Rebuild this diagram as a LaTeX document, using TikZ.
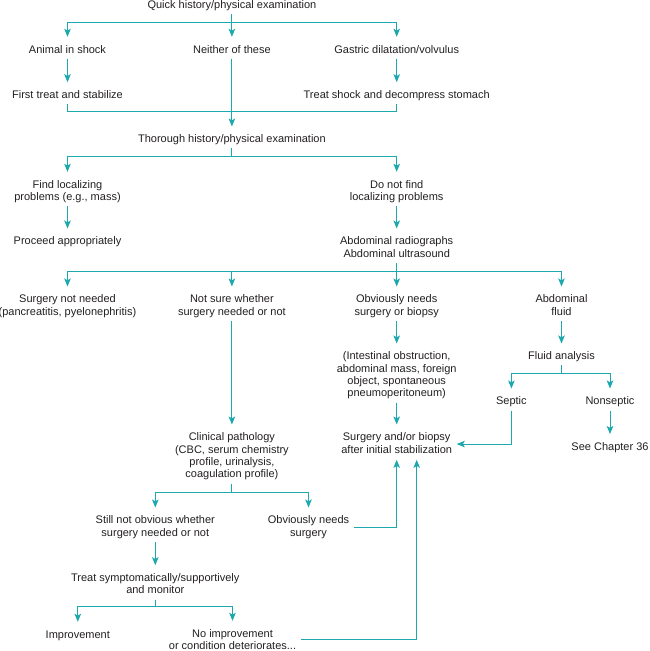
\documentclass[tikz,border=0pt]{standalone}
\usepackage{fontspec}
\setmainfont{Liberation Sans}
\usetikzlibrary{arrows.meta,calc}
\definecolor{teal1}{RGB}{28,168,172}
\definecolor{ink}{RGB}{35,31,32}
\newcommand\tstr{\rule{0pt}{8.2pt}}
\newcommand\bstr{\rule[-2.5pt]{0pt}{2.5pt}}
\begin{document}
\begin{tikzpicture}[x=1pt,y=-1pt,
  txt/.style={align=center, inner xsep=4.5pt, inner ysep=0pt, anchor=north,
    font=\fontsize{11}{12.4}\selectfont, text=ink},
  conn/.style={draw=teal1, line width=1pt},
  arr/.style={conn, -{Stealth[length=8pt,width=6.5pt,inset=1.8pt]}, color=teal1}]
\useasboundingbox (0,0) rectangle (650,651);

% nodes
\node[txt] (quick) at (231.9,0.3) {\tstr Quick history/physical examination\bstr};
\node[txt] (animal) at (67.5,44.6) {\tstr Animal in shock\bstr};
\node[txt] (neither) at (231.9,44.6) {\tstr Neither of these\bstr};
\node[txt] (gastric) at (396.7,44.6) {\tstr Gastric dilatation/volvulus\bstr};
\node[txt] (first) at (67.5,90) {\tstr First treat and stabilize\bstr};
\node[txt] (treatshock) at (396.7,90) {\tstr Treat shock and decompress stomach\bstr};
\node[txt] (thorough) at (231.9,134.3) {\tstr Thorough history/physical examination\bstr};
\node[txt] (findloc) at (67.5,179.6) {\tstr Find localizing\\problems (e.g., mass)\bstr};
\node[txt] (donot) at (396.7,179.6) {\tstr Do not find\\localizing problems\bstr};
\node[txt] (proceed) at (67.5,236.3) {\tstr Proceed appropriately\bstr};
\node[txt] (abdrad) at (396.7,236.3) {\tstr Abdominal radiographs\\Abdominal ultrasound\bstr};
\node[txt] (surgnot) at (67.5,294.3) {\tstr Surgery not needed\\(pancreatitis, pyelonephritis)\bstr};
\node[txt] (notsure) at (231.9,294.3) {\tstr Not sure whether\\surgery needed or not\bstr};
\node[txt] (obvneeds) at (396.7,294.3) {\tstr Obviously needs\\surgery or biopsy\bstr};
\node[txt] (abdfluid) at (561.5,294.3) {\tstr Abdominal\\fluid\bstr};
\node[txt] (intest) at (396.7,351.3) {\tstr (Intestinal obstruction,\\abdominal mass, foreign\\object, spontaneous\\pneumoperitoneum)\bstr};
\node[txt] (fluid) at (561.5,351.3) {\tstr Fluid analysis\bstr};
\node[txt] (septic) at (511.4,396.3) {\tstr Septic\bstr};
\node[txt] (nonseptic) at (610,396.3) {\tstr Nonseptic\bstr};
\node[txt] (chapter) at (610,441.8) {\tstr See Chapter 36\bstr};
\node[txt] (surgery) at (396.7,432.3) {\tstr Surgery and/or biopsy\\after initial stabilization\bstr};
\node[txt] (clinical) at (231.9,432.3) {\tstr Clinical pathology\\(CBC, serum chemistry\\profile, urinalysis,\\coagulation profile)\bstr};
\node[txt] (still) at (155.3,515.3) {\tstr Still not obvious whether\\surgery needed or not\bstr};
\node[txt] (obvsurg) at (308.5,515.3) {\tstr Obviously needs\\surgery\bstr};
\node[txt] (treatsym) at (155.3,573) {\tstr Treat symptomatically/supportively\\and monitor\bstr};
\node[txt] (improve) at (77.8,629.6) {\tstr Improvement\bstr};
\node[txt] (noimprove) at (232.5,628.6) {\tstr No improvement\\or condition deteriorates...};

% branch points
\coordinate (f1) at (231.9,22.3);
\coordinate (j1) at (231.9,111.7);
\coordinate (f2) at (231.9,156.7);
\coordinate (f3) at (396.7,271.7);
\coordinate (f4) at (561.5,373.3);
\coordinate (f5) at (231.9,492.3);
\coordinate (f6) at (155.3,606.7);

% connectors
\draw[conn] ($(quick.south)+(0,2.5)$) -- (f1);
\draw[arr] (f1) -| ($(animal.north)+(0,-7.8)$);
\draw[arr] (f1) -- ($(neither.north)+(0,-7.8)$);
\draw[arr] (f1) -| ($(gastric.north)+(0,-7.8)$);
\draw[arr] ($(animal.south)+(0,3)$) -- ($(first.north)+(0,-7.8)$);
\draw[arr] ($(gastric.south)+(0,3)$) -- ($(treatshock.north)+(0,-7.8)$);
\draw[conn] ($(first.south)+(0,3)$) |- (j1) -| ($(treatshock.south)+(0,3)$);
\draw[arr] ($(neither.south)+(0,3)$) -- ($(thorough.north)+(0,-7.8)$);

\draw[conn] ($(thorough.south)+(0,3)$) -- (f2);
\draw[arr] (f2) -| ($(findloc.north)+(0,-7.8)$);
\draw[arr] (f2) -| ($(donot.north)+(0,-7.8)$);
\draw[arr] ($(findloc.south)+(0,3)$) -- ($(proceed.north)+(0,-7.8)$);
\draw[arr] ($(donot.south)+(0,3)$) -- ($(abdrad.north)+(0,-7.8)$);

\draw[conn] ($(abdrad.south)+(0,3)$) -- (f3);
\draw[arr] (f3) -| ($(surgnot.north)+(0,-7.8)$);
\draw[arr] (f3) -| ($(notsure.north)+(0,-7.8)$);
\draw[arr] (f3) -- ($(obvneeds.north)+(0,-7.8)$);
\draw[arr] (f3) -| ($(abdfluid.north)+(0,-7.8)$);

\draw[arr] ($(notsure.south)+(0,3)$) -- ($(clinical.north)+(0,-7.8)$);
\draw[arr] ($(obvneeds.south)+(0,3)$) -- ($(intest.north)+(0,-7.8)$);
\draw[arr] ($(abdfluid.south)+(0,3)$) -- ($(fluid.north)+(0,-7.8)$);
\draw[arr] ($(intest.south)+(0,3)$) -- ($(surgery.north)+(0,-7.8)$);

\draw[conn] ($(fluid.south)+(0,3)$) -- (f4);
\draw[arr] (f4) -| ($(septic.north)+(0,-7.8)$);
\draw[arr] (f4) -| ($(nonseptic.north)+(0,-7.8)$);
\draw[arr] ($(septic.south)+(0,3.5)$) |- (surgery.east);
\draw[arr] ($(nonseptic.south)+(0,3.5)$) -- ($(chapter.north)+(0,-7.8)$);

\draw[conn] ($(clinical.south)+(0,3)$) -- (f5);
\draw[arr] (f5) -| ($(still.north)+(0,-7.8)$);
\draw[arr] (f5) -| ($(obvsurg.north)+(0,-7.8)$);
\draw[arr] (obvsurg.east) -| ($(surgery.south)+(0,4)$);
\draw[arr] ($(still.south)+(0,3)$) -- ($(treatsym.north)+(0,-7.8)$);

\draw[conn] ($(treatsym.south)+(0,3)$) -- (f6);
\draw[arr] (f6) -| ($(improve.north)+(0,-7.8)$);
\draw[arr] (f6) -| ($(noimprove.north)+(0,-7.8)$);
\draw[arr] (noimprove.east) -| ($(surgery.south)+(20,4)$);
\end{tikzpicture}
\end{document}
